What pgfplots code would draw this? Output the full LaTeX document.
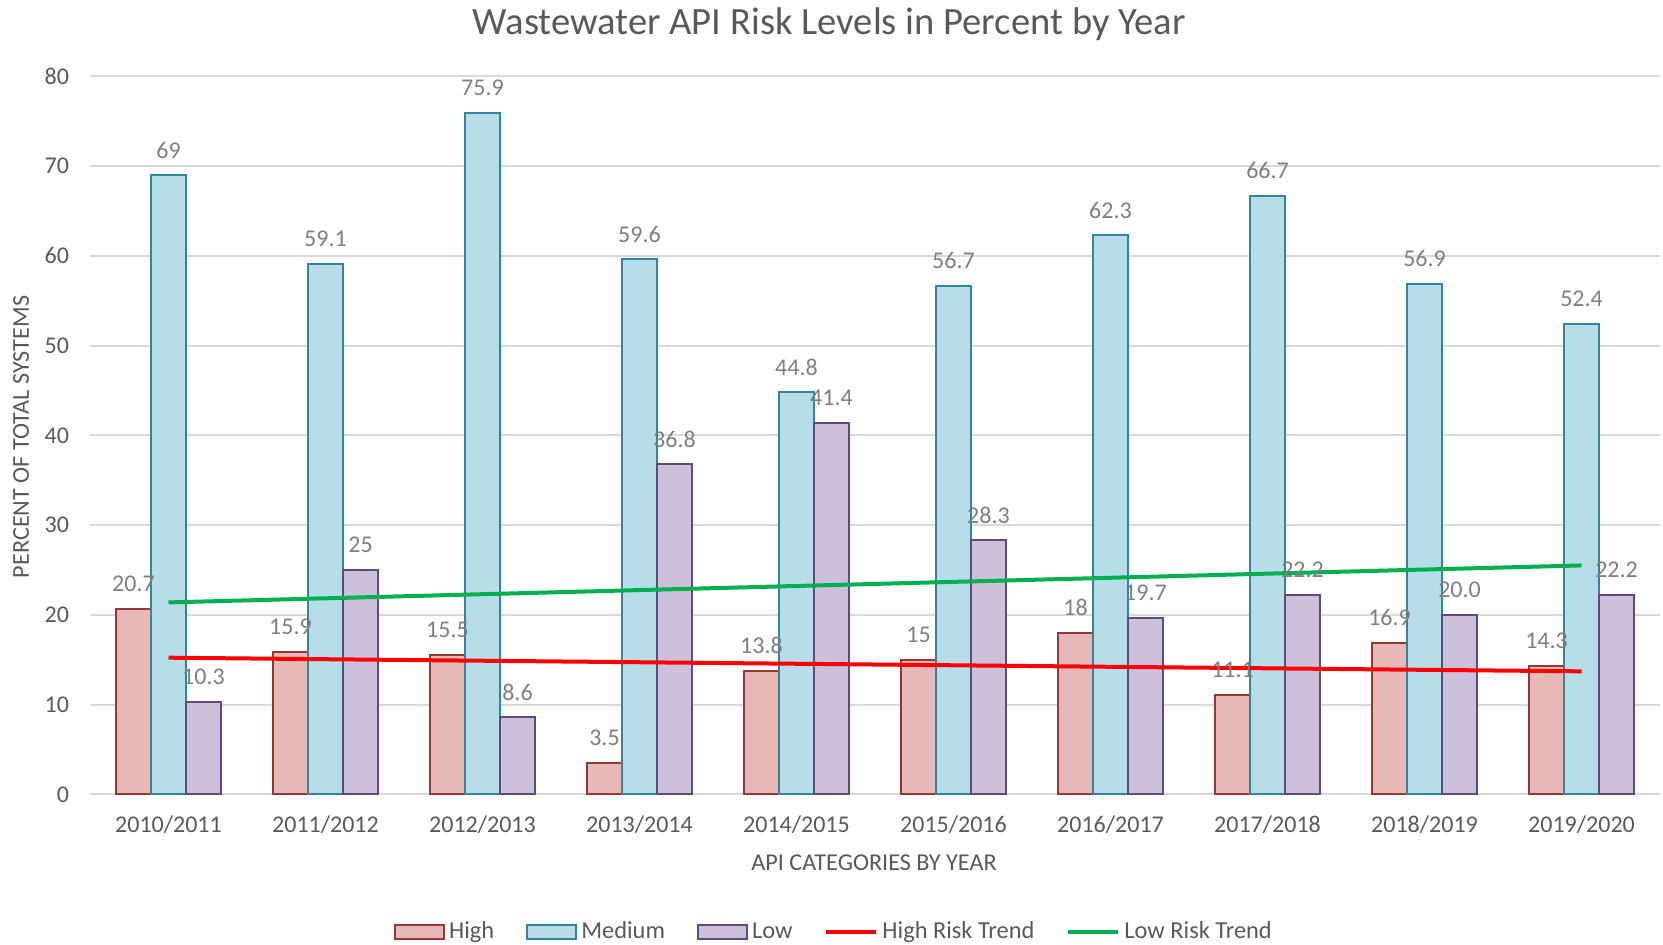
\documentclass[border=0pt]{standalone}
\usepackage{fontspec}
\setmainfont{Carlito}
\usepackage{pgfplots}
\usepackage{pgfplotstable}
\pgfplotsset{compat=1.18}
\definecolor{txt}{HTML}{595959}
\definecolor{lbl}{HTML}{7F7F7F}
\definecolor{grd}{HTML}{D9D9D9}
\definecolor{hif}{HTML}{E6B9B8}
\definecolor{hid}{HTML}{953735}
\definecolor{mef}{HTML}{B7DEE8}
\definecolor{med}{HTML}{31859C}
\definecolor{lof}{HTML}{CCC0DA}
\definecolor{lod}{HTML}{604A7B}
\definecolor{trr}{HTML}{FF0000}
\definecolor{trg}{HTML}{00B050}
\pgfplotsset{
  barleg/.style={legend image code/.code={\draw[##1] (0pt,-3.5pt) rectangle (24.5pt,3.5pt);}},
  lineleg/.style={legend image code/.code={\draw[##1] (0pt,0pt) -- (25pt,0pt);}},
}
\pgfplotstableread{
x high hl med ml low ll
0 20.7 20.7 69 69 10.3 10.3
1 15.9 15.9 59.1 59.1 25 25
2 15.5 15.5 75.9 75.9 8.6 8.6
3 3.5 3.5 59.6 59.6 36.8 36.8
4 13.8 13.8 44.8 44.8 41.4 41.4
5 15 15 56.7 56.7 28.3 28.3
6 18 18 62.3 62.3 19.7 19.7
7 11.1 11.1 66.7 66.7 22.2 22.2
8 16.9 16.9 56.9 56.9 20.0 20.0
9 14.3 14.3 52.4 52.4 22.2 22.2
}\data
\begin{document}
\begin{tikzpicture}[x=1pt,y=1pt]
\path[use as bounding box] (0,0) rectangle (831.5,472.5);
\begin{axis}[
  at={(45pt,75.3pt)}, anchor=south west,
  scale only axis, width=785pt, height=359pt,
  xmin=-0.5, xmax=9.5, ymin=0, ymax=80,
  ytick={0,10,...,80},
  xtick={0,...,9},
  xticklabels={2010/2011,2011/2012,2012/2013,2013/2014,2014/2015,2015/2016,2016/2017,2017/2018,2018/2019,2019/2020},
  /pgf/number format/assume math mode=true,
  major tick length=0pt,
  axis line style={draw=none},
  ymajorgrids, grid style={grd, line width=1pt},
  tick label style={font=\fontsize{12}{14}\selectfont, text=txt},
  yticklabel style={anchor=east, xshift=-7pt},
  xticklabel style={anchor=north, yshift=-7pt},
  ybar=0pt, bar width=17.5pt,
  clip=false,
  legend style={draw=none, fill=none, at={(0.4745,-0.1916)}, anchor=center,
    font=\fontsize{12.2}{14}\selectfont, text=txt,
    /tikz/every even column/.append style={column sep=14pt}},
  legend columns=5, legend cell align=left,
]
\addplot[fill=hif, draw=hid, line width=1pt, barleg,
  point meta=explicit symbolic, nodes near coords,
  nodes near coords style={font=\fontsize{12}{14}\selectfont, text=lbl, anchor=center, yshift=12.5pt}]
  table[x=x, y=high, meta=hl] {\data};
\addlegendentry{High}
\addplot[fill=mef, draw=med, line width=1pt, barleg,
  point meta=explicit symbolic, nodes near coords,
  nodes near coords style={font=\fontsize{12}{14}\selectfont, text=lbl, anchor=center, yshift=12.5pt}]
  table[x=x, y=med, meta=ml] {\data};
\addlegendentry{Medium}
\addplot[fill=lof, draw=lod, line width=1pt, barleg,
  point meta=explicit symbolic, nodes near coords,
  nodes near coords style={font=\fontsize{12}{14}\selectfont, text=lbl, anchor=center, yshift=12.5pt}]
  table[x=x, y=low, meta=ll] {\data};
\addlegendentry{Low}
\addplot[sharp plot, draw=trr, line width=2pt, no markers, lineleg]
  coordinates {(0,15.23) (9,13.71)};
\addlegendentry{High Risk Trend}
\addplot[sharp plot, draw=trg, line width=2pt, no markers, lineleg]
  coordinates {(0,21.39) (9,25.51)};
\addlegendentry{Low Risk Trend}
\end{axis}
\node[font=\fontsize{19.3}{22}\selectfont, text=txt] at (414.5,460.5) {Wastewater API Risk Levels in Percent by Year};
\node[font=\fontsize{12.1}{14}\selectfont, text=txt] at (437,41) {API CATEGORIES BY YEAR};
\node[font=\fontsize{12.1}{14}\selectfont, text=txt, rotate=90] at (10.5,254) {PERCENT OF TOTAL SYSTEMS};
\end{tikzpicture}
\end{document}
